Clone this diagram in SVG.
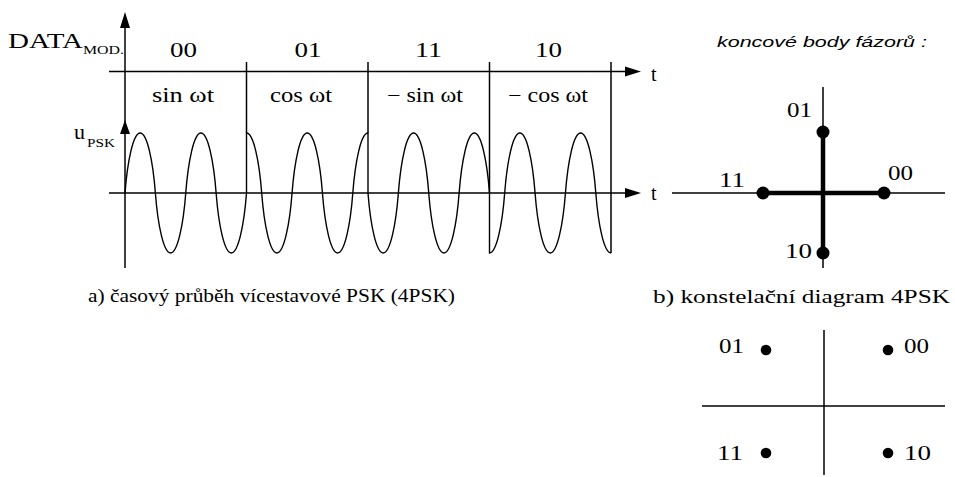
<svg xmlns="http://www.w3.org/2000/svg" width="955" height="477" viewBox="0 0 955 477">
<style>
.ln{stroke:#000;stroke-width:1.5;fill:none}
.th{stroke:#000;stroke-width:4.5;fill:none}
.wv{stroke:#000;stroke-width:1.4;fill:none}
.ah{fill:#000;stroke:none}
.dot{fill:#000;stroke:none}
.serif{font-family:"Liberation Serif","Times New Roman",serif;fill:#000}
.t20{font-family:"Liberation Serif","Times New Roman",serif;font-size:20px;fill:#000}
.sub{font-family:"Liberation Serif","Times New Roman",serif;font-size:12px;fill:#000}
.cap{font-family:"Liberation Serif","Times New Roman",serif;font-size:19px;fill:#000}
.it{font-family:"Liberation Sans",Arial,sans-serif;font-style:italic;font-size:15px;fill:#000}
</style>
<rect width="955" height="477" fill="#fff"/>
<g id="time-plot">
  <g id="axes">
    <line class="ln" x1="125" y1="268" x2="125" y2="20"/>
    <polygon class="ah" points="125,12 120,28 130,28"/>
    <polygon class="ah" points="125,120 120,134 130,134"/>
    <line class="ln" x1="109" y1="71.5" x2="630" y2="71.5"/>
    <polygon class="ah" points="641,71.5 625,66.5 625,76.5"/>
    <line class="ln" x1="109" y1="193" x2="630" y2="193"/>
    <polygon class="ah" points="641,193 625,188 625,198"/>
  </g>
  <g id="separators">
    <line class="ln" x1="246.5" y1="62" x2="246.5" y2="133"/>
    <line class="ln" x1="368" y1="62" x2="368" y2="133"/>
    <line class="ln" x1="489.5" y1="62" x2="489.5" y2="193"/>
    <line class="ln" x1="611" y1="62" x2="611" y2="253"/>
  </g>
  <path id="wave" class="wv" d="M125,193
c2.43,-31.8 8.2,-60 15.1875,-60 c6.99,0 12.76,28.2 15.1875,60 c2.43,31.8 8.2,60 15.1875,60 c6.99,0 12.76,-28.2 15.1875,-60
c2.43,-31.8 8.2,-60 15.1875,-60 c6.99,0 12.76,28.2 15.1875,60 c2.43,31.8 8.2,60 15.1875,60 c6.99,0 12.76,-28.2 15.1875,-60
V133
c6.99,0 12.76,28.2 15.1875,60 c2.43,31.8 8.2,60 15.1875,60 c6.99,0 12.76,-28.2 15.1875,-60 c2.43,-31.8 8.2,-60 15.1875,-60
c6.99,0 12.76,28.2 15.1875,60 c2.43,31.8 8.2,60 15.1875,60 c6.99,0 12.76,-28.2 15.1875,-60 c2.43,-31.8 8.2,-60 15.1875,-60
V193
c2.43,31.8 8.2,60 15.1875,60 c6.99,0 12.76,-28.2 15.1875,-60 c2.43,-31.8 8.2,-60 15.1875,-60 c6.99,0 12.76,28.2 15.1875,60
c2.43,31.8 8.2,60 15.1875,60 c6.99,0 12.76,-28.2 15.1875,-60 c2.43,-31.8 8.2,-60 15.1875,-60 c6.99,0 12.76,28.2 15.1875,60
V253
c6.99,0 12.76,-28.2 15.1875,-60 c2.43,-31.8 8.2,-60 15.1875,-60 c6.99,0 12.76,28.2 15.1875,60 c2.43,31.8 8.2,60 15.1875,60
c6.99,0 12.76,-28.2 15.1875,-60 c2.43,-31.8 8.2,-60 15.1875,-60 c6.99,0 12.76,28.2 15.1875,60 c2.43,31.8 8.2,60 15.1875,60"/>
  <g id="labels-a">
    <text class="serif" x="8" y="48" font-size="22" textLength="75" lengthAdjust="spacingAndGlyphs">DATA</text>
    <text class="sub" x="83" y="54" textLength="41" lengthAdjust="spacingAndGlyphs">MOD.</text>
    <text class="serif" x="74" y="139" font-size="22">u</text>
    <text class="sub" x="87" y="146.5" textLength="28" lengthAdjust="spacingAndGlyphs">PSK</text>
    <text class="t20" x="170" y="57" textLength="27" lengthAdjust="spacingAndGlyphs">00</text>
    <text class="t20" x="294.5" y="57" textLength="27" lengthAdjust="spacingAndGlyphs">01</text>
    <text class="t20" x="415" y="57" textLength="27" lengthAdjust="spacingAndGlyphs">11</text>
    <text class="t20" x="535" y="57" textLength="27" lengthAdjust="spacingAndGlyphs">10</text>
    <text class="t20" x="152" y="102" textLength="62" lengthAdjust="spacingAndGlyphs">sin ωt</text>
    <text class="t20" x="270" y="102" textLength="62" lengthAdjust="spacingAndGlyphs">cos ωt</text>
    <text class="t20" x="387" y="102" textLength="76" lengthAdjust="spacingAndGlyphs">− sin ωt</text>
    <text class="t20" x="508" y="102" textLength="80" lengthAdjust="spacingAndGlyphs">− cos ωt</text>
    <text class="t20" x="651" y="81">t</text>
    <text class="t20" x="651" y="200">t</text>
    <text class="cap" x="88" y="302" textLength="367" lengthAdjust="spacingAndGlyphs">a) časový průběh vícestavové PSK (4PSK)</text>
  </g>
</g>
<g id="phasor-plot">
  <text class="it" x="717" y="47" textLength="210" lengthAdjust="spacingAndGlyphs">koncové body fázorů :</text>
  <line class="ln" x1="672" y1="193" x2="945" y2="193"/>
  <line class="ln" x1="823" y1="87" x2="823" y2="268"/>
  <line class="th" x1="763" y1="193" x2="884" y2="193"/>
  <line class="th" x1="823" y1="132" x2="823" y2="253"/>
  <circle class="dot" cx="763" cy="193" r="6.5"/>
  <circle class="dot" cx="884" cy="193" r="6.5"/>
  <circle class="dot" cx="823" cy="132" r="6.5"/>
  <circle class="dot" cx="823" cy="253" r="6.5"/>
  <text class="t20" x="787" y="117" textLength="25" lengthAdjust="spacingAndGlyphs">01</text>
  <text class="t20" x="888" y="180" textLength="25" lengthAdjust="spacingAndGlyphs">00</text>
  <text class="t20" x="719" y="187" textLength="26" lengthAdjust="spacingAndGlyphs">11</text>
  <text class="t20" x="785" y="258" textLength="27" lengthAdjust="spacingAndGlyphs">10</text>
</g>
<g id="constellation">
  <text class="cap" x="653" y="303" textLength="297" lengthAdjust="spacingAndGlyphs">b) konstelační diagram 4PSK</text>
  <line class="ln" x1="824" y1="330" x2="824" y2="475"/>
  <line class="ln" x1="702" y1="406" x2="945" y2="406"/>
  <circle class="dot" cx="766" cy="350" r="5.3"/>
  <circle class="dot" cx="888" cy="350" r="5.3"/>
  <circle class="dot" cx="766" cy="453" r="5.3"/>
  <circle class="dot" cx="888" cy="453" r="5.3"/>
  <text class="t20" x="719" y="353" textLength="25" lengthAdjust="spacingAndGlyphs">01</text>
  <text class="t20" x="904" y="353" textLength="25" lengthAdjust="spacingAndGlyphs">00</text>
  <text class="t20" x="717" y="460" textLength="26" lengthAdjust="spacingAndGlyphs">11</text>
  <text class="t20" x="904" y="460" textLength="27" lengthAdjust="spacingAndGlyphs">10</text>
</g>
</svg>
